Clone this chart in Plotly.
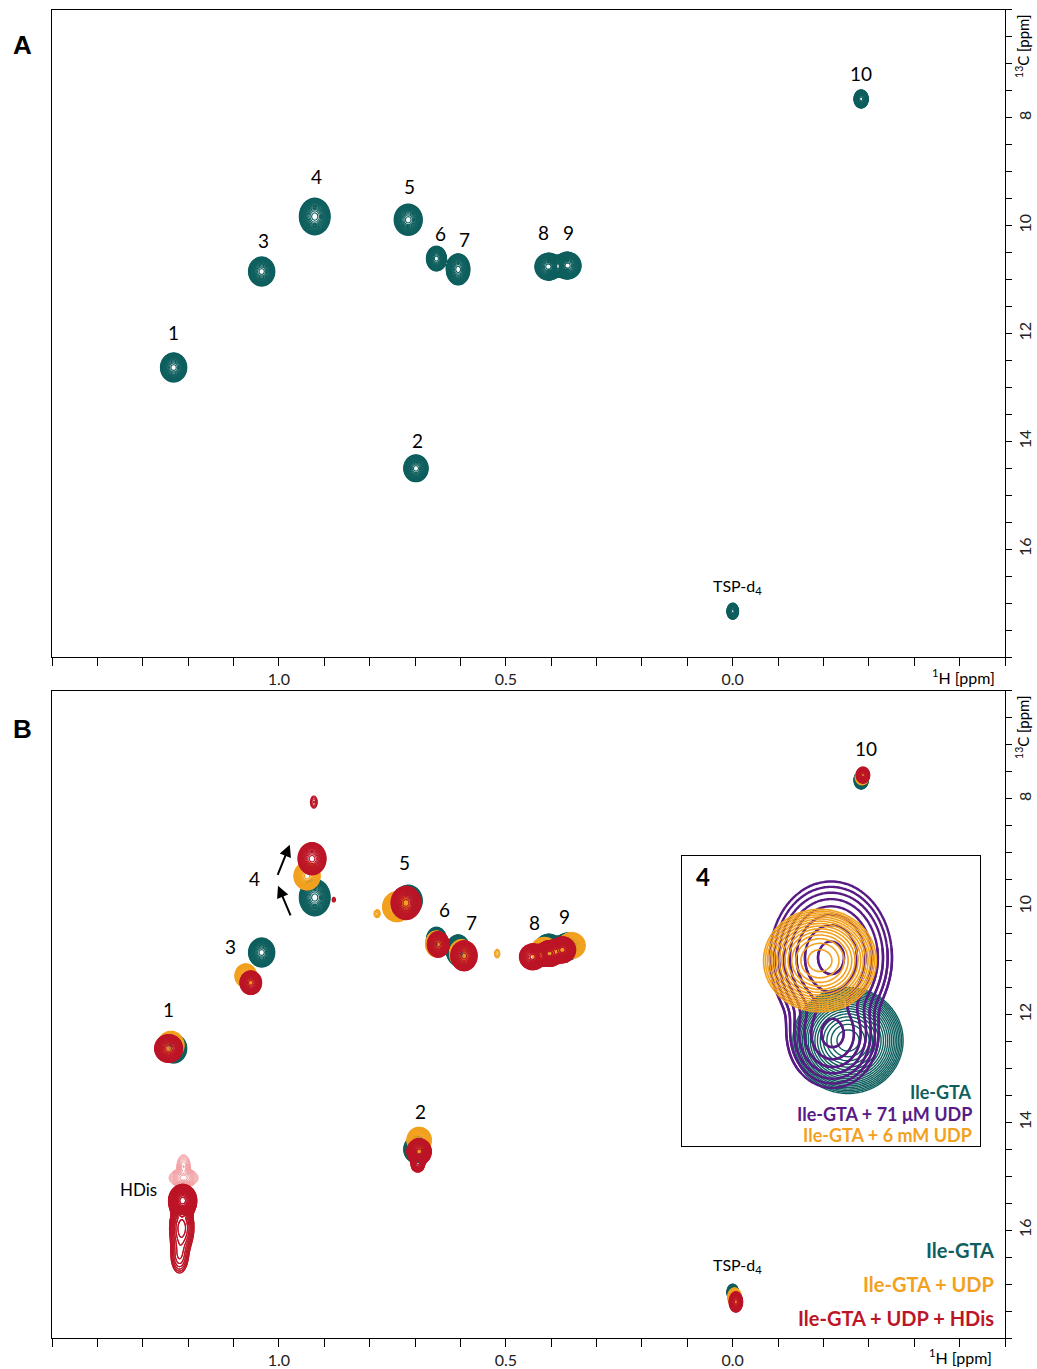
import numpy as np
import plotly.graph_objects as go

W, H = 1037, 1369

# ---------------------------------------------------------------------------
# Peak tables: 1H shift, 13C shift (ppm), half-widths of the lowest contour
# (ppm) and relative intensity.
# ---------------------------------------------------------------------------

# Ile-GTA
gta_h   = [1.232, 0.698, 1.038, 0.921, 0.715, 0.653, 0.605, 0.406, 0.364, -0.283, 0.000]
gta_c   = [12.63, 14.50, 10.85, 9.83, 9.89, 10.61, 10.81, 10.76, 10.74, 7.65, 17.15]
gta_wh  = [0.029, 0.027, 0.029, 0.034, 0.031, 0.022, 0.026, 0.030, 0.030, 0.016, 0.013]
gta_wc  = [0.27, 0.25, 0.27, 0.34, 0.29, 0.23, 0.29, 0.25, 0.25, 0.17, 0.15]
gta_amp = [1, 1, 1, 1, 1, 1, 1, 1, 1, 1, 1]

# Ile-GTA + UDP
udp_h   = [1.238, 0.691, 1.073, 0.938, 0.740, 0.653, 0.598, 0.415, 0.355, -0.285, -0.004, 0.784, 0.519]
udp_c   = [12.57, 14.33, 11.28, 9.43, 10.00, 10.69, 10.87, 10.81, 10.72, 7.59, 17.24, 10.13, 10.87]
udp_wh  = [0.029, 0.027, 0.024, 0.029, 0.031, 0.024, 0.026, 0.030, 0.030, 0.015, 0.015, 0.018, 0.016]
udp_wc  = [0.26, 0.24, 0.22, 0.26, 0.28, 0.24, 0.26, 0.24, 0.24, 0.15, 0.17, 0.20, 0.22]
udp_amp = [1, 1, 1, 1, 1, 1, 1, 1, 1, 1, 1, 0.02, 0.02]

# Ile-GTA + UDP + HDis
hd_h    = [1.243, 0.691, 1.062, 0.927, 0.720, 0.649, 0.592, 0.441, 0.404, 0.375, -0.287, -0.007,
           0.923, 0.879, 0.694, 1.212, 1.214, 1.219]
hd_c    = [12.63, 14.54, 11.41, 9.11, 9.93, 10.70, 10.91, 10.93, 10.87, 10.80, 7.56, 17.33,
           8.06, 9.87, 14.78, 15.45, 15.95, 16.48]
hd_wh   = [0.031, 0.027, 0.024, 0.031, 0.033, 0.024, 0.029, 0.029, 0.029, 0.029, 0.015, 0.015,
           0.016, 0.010, 0.020, 0.031, 0.042, 0.036]
hd_wc   = [0.26, 0.24, 0.22, 0.30, 0.31, 0.24, 0.28, 0.24, 0.24, 0.24, 0.15, 0.19,
           0.24, 0.12, 0.20, 0.30, 0.70, 0.62]
hd_amp  = [1, 1, 1, 1, 1, 1, 1, 1, 1, 1, 1, 1,
           0.03, 0.02, 0.12, 1, 0.07, 0.035]

# free HDis
hdis_h   = [1.210, 1.210]
hdis_c   = [15.03, 14.82]
hdis_wh  = [0.032, 0.016]
hdis_wc  = [0.17, 0.24]
hdis_amp = [1.0, 0.5]

# Expanded view of peak 4
ins_gta_h, ins_gta_c, ins_gta_wh, ins_gta_wc, ins_gta_amp = [0.9204], [9.830], [0.0344], [0.275], [1]
ins_u6_h, ins_u6_c, ins_u6_wh, ins_u6_wc, ins_u6_amp = [0.9379], [9.415], [0.0356], [0.269], [1]
ins_u71_h   = [0.931, 0.930]
ins_u71_c   = [9.40, 9.80]
ins_u71_wh  = [0.0385, 0.031]
ins_u71_wc  = [0.40, 0.30]
ins_u71_amp = [1.0, 0.55]

# peak labels (text, 1H, 13C)
labels_a = [("1", 1.232, 11.98), ("2", 0.695, 13.98), ("3", 1.033, 10.28), ("4", 0.918, 9.09),
            ("5", 0.713, 9.28), ("6", 0.645, 10.15), ("7", 0.592, 10.26), ("8", 0.417, 10.13),
            ("9", 0.362, 10.13), ("10", -0.283, 7.17)]
labels_b = [("1", 1.243, 11.91), ("2", 0.689, 13.80), ("3", 1.106, 10.74), ("4", 1.053, 9.48),
            ("5", 0.724, 9.19), ("6", 0.636, 10.06), ("7", 0.576, 10.30), ("8", 0.437, 10.30),
            ("9", 0.371, 10.19), ("10", -0.294, 7.07)]

x_ticks = [0.0, 0.5, 1.0]
x_labels = ["0.0", "0.5", "1.0"]
y_ticks = [8, 10, 12, 14, 16]
y_labels = ["8", "10", "12", "14", "16"]

TEAL = "#0E5F5E"
ORANGE = "#F2A11F"
RED = "#BC1527"
PINK = "#F3A3A6"
PURPLE = "#581B86"


def contour_traces(h, c, wh, wc, amp, color, xa, ya, start=-4.5, size=0.24,
                   width=1.15, n=61, pad=1.5):
    h, c, wh, wc, amp = map(np.asarray, (h, c, wh, wc, amp))
    sh, sc = wh / 3.0, wc / 3.0
    traces = []
    for i in range(len(h)):
        xs = np.linspace(h[i] - pad * wh[i], h[i] + pad * wh[i], n)
        ys = np.linspace(c[i] - pad * wc[i], c[i] + pad * wc[i], n)
        X, Y = np.meshgrid(xs, ys)
        Z = np.zeros_like(X)
        for j in range(len(h)):
            Z += amp[j] * np.exp(-0.5 * (((X - h[j]) / sh[j]) ** 2 + ((Y - c[j]) / sc[j]) ** 2))
        L = np.round(np.log(np.maximum(Z, 1e-9)), 3)
        traces.append(go.Contour(
            x=np.round(xs, 5), y=np.round(ys, 4), z=L, xaxis=xa, yaxis=ya,
            autocontour=False,
            contours=dict(coloring="lines", start=start, end=1.0, size=size),
            line=dict(width=width, smoothing=1),
            colorscale=[[0, color], [1, color]], showscale=False,
            hoverinfo="skip"))
    return traces


fig = go.Figure()
# panel A
for t in contour_traces(gta_h, gta_c, gta_wh, gta_wc, gta_amp, TEAL, "x", "y"):
    fig.add_trace(t)
# panel B
for t in contour_traces(gta_h, gta_c, gta_wh, gta_wc, gta_amp, TEAL, "x2", "y2"):
    fig.add_trace(t)
for t in contour_traces(udp_h, udp_c, udp_wh, udp_wc, udp_amp, ORANGE, "x2", "y2"):
    fig.add_trace(t)
for t in contour_traces(hdis_h, hdis_c, hdis_wh, hdis_wc, hdis_amp, PINK, "x2", "y2",
                        size=0.42, width=1.0):
    fig.add_trace(t)
for t in contour_traces(hd_h, hd_c, hd_wh, hd_wc, hd_amp, RED, "x2", "y2"):
    fig.add_trace(t)
# inset
for t in contour_traces(ins_gta_h, ins_gta_c, ins_gta_wh, ins_gta_wc, ins_gta_amp, TEAL,
                        "x3", "y3", size=0.24, width=1.4, n=121):
    fig.add_trace(t)
for t in contour_traces(ins_u71_h, ins_u71_c, ins_u71_wh, ins_u71_wc, ins_u71_amp, PURPLE,
                        "x3", "y3", start=-4.4, size=0.6, width=2.4, n=121):
    fig.add_trace(t)
for t in contour_traces(ins_u6_h, ins_u6_c, ins_u6_wh, ins_u6_wc, ins_u6_amp, ORANGE,
                        "x3", "y3", start=-4.4, size=0.3, width=1.6, n=121):
    fig.add_trace(t)

FONT = "Lato, 'Open Sans', sans-serif"
tick_font = dict(family=FONT, size=16, color="#222")

x0, x1 = 52 / W, 1005 / W


def xaxis(anchor):
    return dict(domain=[x0, x1], anchor=anchor, range=[1.5, -0.6], showgrid=False,
                zeroline=False, showline=True, linecolor="black", linewidth=1, mirror=True,
                ticks="outside", ticklen=8, tickcolor="black", tickwidth=1,
                tickvals=x_ticks, ticktext=x_labels, tickfont=tick_font,
                minor=dict(ticks="outside", dtick=0.1, tick0=0, ticklen=8,
                           tickcolor="black", tickwidth=1, showgrid=False))


def yaxis(anchor, top, bottom):
    return dict(domain=[1 - bottom / H, 1 - top / H], anchor=anchor, range=[18, 6],
                side="right", showgrid=False, zeroline=False, showline=True,
                linecolor="black", linewidth=1, mirror=True, ticks="outside", ticklen=6,
                tickcolor="black", tickwidth=1, tickangle=-90,
                tickvals=y_ticks, ticktext=y_labels, tickfont=tick_font,
                minor=dict(ticks="outside", dtick=0.5, tick0=0, ticklen=6,
                           tickcolor="black", tickwidth=1, showgrid=False))


ann = []


def px_note(text, px, py, size, color="black", bold=False, xanchor="center", angle=0, family=FONT):
    ann.append(dict(text=text, x=px / W, y=1 - py / H,
                    xref="paper", yref="paper", showarrow=False, xanchor=xanchor,
                    yanchor="middle", textangle=angle,
                    font=dict(family=family, size=size, color=color,
                              weight="bold" if bold else "normal")))


for txt, hx, cy in labels_a:
    ann.append(dict(text=txt, x=hx, y=cy, xref="x", yref="y", showarrow=False,
                    font=dict(family=FONT, size=19, color="black")))
for txt, hx, cy in labels_b:
    ann.append(dict(text=txt, x=hx, y=cy, xref="x2", yref="y2", showarrow=False,
                    font=dict(family=FONT, size=19, color="black")))
ann.append(dict(text="TSP-d<sub>4</sub>", x=-0.011, y=16.69, xref="x", yref="y",
                showarrow=False, font=dict(family=FONT, size=16, color="black")))
ann.append(dict(text="TSP-d<sub>4</sub>", x=-0.011, y=16.65, xref="x2", yref="y2",
                showarrow=False, font=dict(family=FONT, size=16, color="black")))
ann.append(dict(text="HDis", x=1.309, y=15.24, xref="x2", yref="y2",
                showarrow=False, font=dict(family=FONT, size=17, color="black")))

# shift arrows for peak 4
for (tx, ty, hx, hy) in [(1.004, 9.44, 0.976, 8.85), (0.973, 10.19, 1.002, 9.61)]:
    ann.append(dict(x=hx, y=hy, ax=tx, ay=ty, xref="x2", yref="y2", axref="x2", ayref="y2",
                    showarrow=True, arrowhead=2, arrowsize=1.2, arrowwidth=2,
                    arrowcolor="black", text=""))

# panel letters, axis titles
px_note("A", 22, 45, 26, bold=True, family="Arial, Liberation Sans, sans-serif")
px_note("B", 22, 730, 26, bold=True, family="Arial, Liberation Sans, sans-serif")
px_note("<sup>1</sup>H [ppm]", 963, 677, 16)
px_note("<sup>1</sup>H [ppm]", 960, 1358, 16)
px_note("<sup>13</sup>C [ppm]", 1023, 46, 15, angle=-90)
px_note("<sup>13</sup>C [ppm]", 1023, 728, 15, angle=-90)

# legend of panel B
px_note("Ile-GTA", 996, 1252, 20, TEAL, True, "right")
px_note("Ile-GTA + UDP", 996, 1286, 20, ORANGE, True, "right")
px_note("Ile-GTA + UDP + HDis", 996, 1320, 20, RED, True, "right")

# inset texts
px_note("4", 703, 878, 24, bold=True)
px_note("Ile-GTA", 974, 1094, 18, TEAL, True, "right")
px_note("Ile-GTA + 71 μM UDP", 974, 1116, 18, PURPLE, True, "right")
px_note("Ile-GTA + 6 mM UDP", 974, 1137, 18, ORANGE, True, "right")

fig.update_layout(
    width=W, height=H, margin=dict(l=0, r=0, t=0, b=0),
    paper_bgcolor="white", plot_bgcolor="rgba(0,0,0,0)", showlegend=False,
    xaxis=xaxis("y"), yaxis=yaxis("x", 10, 658),
    xaxis2=xaxis("y2"), yaxis2=yaxis("x2", 692, 1340),
    xaxis3=dict(domain=[682 / W, 980 / W], anchor="y3", range=[1.024, 0.838],
                showgrid=False, zeroline=False, showticklabels=False, ticks="",
                showline=True, linecolor="black", linewidth=1.2, mirror=True),
    yaxis3=dict(domain=[1 - 1148 / H, 1 - 857 / H], anchor="x3", range=[10.379, 8.871],
                showgrid=False, zeroline=False, showticklabels=False, ticks="",
                showline=True, linecolor="black", linewidth=1.2, mirror=True),
    annotations=ann,
)

fig.write_html("out.html")
